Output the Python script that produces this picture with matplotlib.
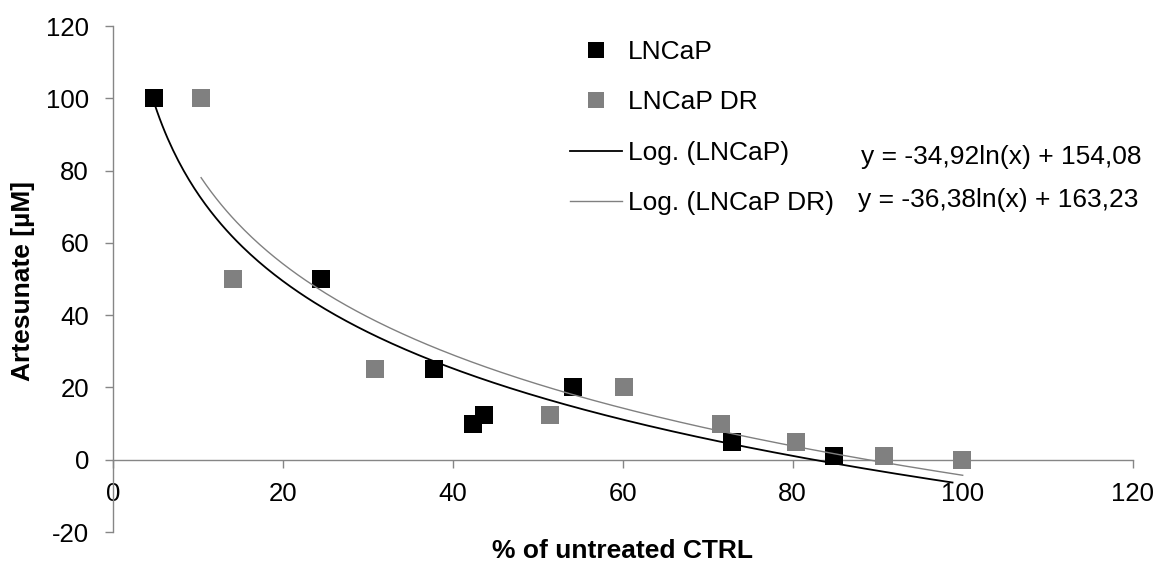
import numpy as np
import matplotlib
matplotlib.use("Agg")
import matplotlib.pyplot as plt
from matplotlib.lines import Line2D

plt.rcParams['font.family'] = ['Liberation Sans', 'DejaVu Sans']

# ---- data ----
lncap_x = [4.9, 24.5, 37.8, 42.4, 43.7, 54.1, 72.9, 84.8]
lncap_y = [100, 50, 25, 10, 12.5, 20, 5, 1]
dr_x = [10.4, 14.1, 30.8, 51.5, 60.2, 71.6, 80.4, 90.7, 99.9]
dr_y = [100, 50, 25, 12.5, 20, 10, 5, 1, 0]

series_names = ["LNCaP", "LNCaP DR"]
trend_names = ["Log. (LNCaP)", "Log. (LNCaP DR)"]
trend_a = [-34.92, -36.38]
trend_b = [154.08, 163.23]
trend_start = [4.9, 10.4]
trend_end = [98.8, 100.0]
equations = ["y = -34,92ln(x) + 154,08", "y = -36,38ln(x) + 163,23"]

x_ticks = [0, 20, 40, 60, 80, 100, 120]
y_ticks = [-20, 0, 20, 40, 60, 80, 100, 120]
x_label = "% of untreated CTRL"
y_label = "Artesunate [µM]"

# ---- style ----
W, H = 1161, 564
DPI = 100
FS = 19
TICK_FS = 18.5
AX_COLOR = "#868686"
colors = ["#000000", "#808080"]
line_widths = [1.3, 1.0]

fig = plt.figure(figsize=(W / DPI, H / DPI), dpi=DPI)
ax_l, ax_r, ax_t, ax_b = 112.7, 1132.7, 26.0, 532.0
ax = fig.add_axes([ax_l / W, 1 - ax_b / H, (ax_r - ax_l) / W, (ax_b - ax_t) / H])

ax.set_xlim(0, 120)
ax.set_ylim(-20, 120)

for sx, sy, c in [(lncap_x, lncap_y, colors[0]), (dr_x, dr_y, colors[1])]:
    ax.plot(sx, sy, linestyle='none', marker='s', markersize=13.3,
            markerfacecolor=c, markeredgewidth=0, zorder=3)

for a, b, s, e, c, lw in zip(trend_a, trend_b, trend_start, trend_end, colors, line_widths):
    xx = np.linspace(s, e, 300)
    ax.plot(xx, a * np.log(xx) + b, color=c, linewidth=lw, zorder=4)

for side in ['top', 'right']:
    ax.spines[side].set_visible(False)
ax.spines['bottom'].set_position(('data', 0))
for side in ['left', 'bottom']:
    ax.spines[side].set_color(AX_COLOR)
    ax.spines[side].set_linewidth(1.0)

ax.set_xticks(x_ticks)
ax.set_yticks(y_ticks)
ax.set_xticklabels([str(v) for v in x_ticks])
ax.set_yticklabels([str(v) for v in y_ticks])
ax.tick_params(axis='x', direction='out', length=5.5, width=1.0, color=AX_COLOR,
               labelsize=TICK_FS, pad=10.5)
ax.tick_params(axis='y', direction='out', length=5.5, width=1.0, color=AX_COLOR,
               labelsize=TICK_FS, pad=11.5)

# axis titles
fig.text(622.5 / W, 1 - 551 / H, x_label, ha='center', va='center',
         fontsize=FS, fontweight='bold')
fig.text(23 / W, 1 - 281 / H, y_label, ha='center', va='center',
         rotation=90, fontsize=FS, fontweight='bold')

# ---- legend (manual, Excel-like) ----
def fx(px):
    return (px - ax_l) / (ax_r - ax_l)

def fy(py):
    return (ax_b - py) / (ax_b - ax_t)

rows = [50, 100, 150.7, 200.7]
cap = 0.716 * FS * DPI / 72
for i, c in enumerate(colors):
    ax.add_line(Line2D([fx(595.7)], [fy(rows[i])], transform=ax.transAxes,
                       linestyle='none', marker='s', markersize=12,
                       markerfacecolor=c, markeredgewidth=0, clip_on=False))
    ax.text(fx(628), fy(rows[i] + cap / 2), series_names[i], transform=ax.transAxes,
            ha='left', va='baseline', fontsize=FS)
for i, (c, lw) in enumerate(zip(colors, line_widths)):
    r = rows[2 + i]
    ax.add_line(Line2D([fx(570), fx(621.7)], [fy(r), fy(r)], transform=ax.transAxes,
                       color=c, linewidth=lw, clip_on=False))
    ax.text(fx(628), fy(r + cap / 2), trend_names[i], transform=ax.transAxes,
            ha='left', va='baseline', fontsize=FS)

eq_pos = [(860.7, 155), (858.3, 197.5)]
for (px, py), txt in zip(eq_pos, equations):
    ax.text(fx(px), fy(py + cap / 2), txt, transform=ax.transAxes,
            ha='left', va='baseline', fontsize=FS)

fig.savefig("out.png", dpi=DPI)
